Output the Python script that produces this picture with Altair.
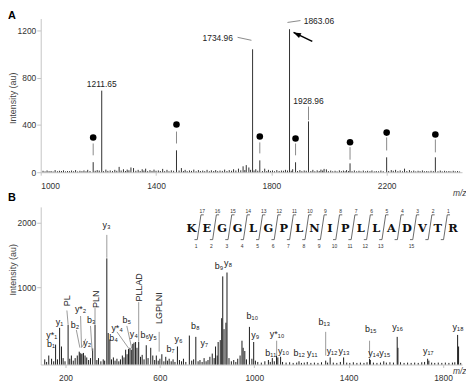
import altair as alt
import pandas as pd

FONT = "Liberation Sans"
SEQFONT = "DejaVu Serif"

# ---------------- Panel A : MS spectrum ----------------
a_main_mz = [1182.0, 1211.65, 1471.0, 1734.96, 1760.0, 1863.06, 1884.0, 1928.96, 2073.0, 2200.0, 2369.0]
a_main_int = [85, 690, 185, 1040, 100, 1210, 84, 430, 75, 126, 126]

a_minor_mz = [1008, 1022, 1036, 1050, 1065, 1079, 1093, 1107, 1121, 1136, 1150, 1163, 1196, 1226,
              1241, 1257, 1272, 1287, 1300, 1313, 1322, 1338, 1352, 1364, 1379, 1393, 1408, 1423,
              1438, 1453, 1488, 1501, 1516, 1531, 1547, 1562, 1577, 1592, 1607, 1622, 1638, 1654,
              1669, 1686, 1702, 1713, 1722, 1746, 1777, 1790, 1804, 1819, 1835, 1849, 1874, 1899,
              1914, 1944, 1959, 1972, 1983, 1991, 2006, 2021, 2036, 2050, 2061, 2088, 2104, 2119,
              2134, 2149, 2164, 2180, 2216, 2231, 2247, 2262, 2279, 2294, 2309, 2324, 2339, 2354,
              2386, 2401, 2416, 2431, 2446]
a_minor_int = [12, 15, 10, 18, 12, 16, 10, 14, 18, 12, 15, 20, 18, 22,
               15, 20, 45, 25, 22, 40, 35, 20, 25, 30, 18, 22, 15, 28,
               20, 16, 35, 20, 15, 22, 18, 14, 20, 16, 18, 14, 22, 18,
               25, 30, 50, 60, 40, 25, 30, 20, 15, 18, 14, 20, 25, 18,
               15, 20, 16, 22, 28, 24, 14, 12, 16, 14, 18, 15, 12, 14,
               12, 15, 10, 14, 18, 20, 15, 30, 18, 14, 12, 15, 10, 12,
               14, 12, 10, 12, 10]
a_noise_mz = [1015, 1029, 1043, 1058, 1072, 1086, 1100, 1114, 1128, 1143, 1157, 1171, 1189, 1203,
              1218, 1233, 1249, 1264, 1279, 1294, 1306, 1330, 1345, 1358, 1371, 1386, 1400, 1415,
              1430, 1445, 1461, 1480, 1495, 1508, 1523, 1539, 1554, 1569, 1585, 1600, 1614, 1630,
              1646, 1662, 1677, 1694, 1708, 1728, 1740, 1753, 1769, 1784, 1797, 1811, 1827, 1842,
              1856, 1869, 1891, 1906, 1921, 1937, 1951, 1966, 1978, 1998, 2013, 2028, 2043, 2056,
              2068, 2080, 2096, 2111, 2127, 2142, 2157, 2172, 2188, 2207, 2223, 2239, 2255, 2270,
              2286, 2301, 2316, 2331, 2346, 2362, 2378, 2393, 2408, 2423, 2438, 2453]
a_noise_int = [7, 9, 6, 8, 10, 7, 9, 8, 6, 9, 8, 10, 12, 14,
               9, 11, 10, 12, 14, 10, 16, 12, 10, 14, 9, 11, 12, 10,
               9, 8, 12, 14, 10, 9, 11, 8, 10, 9, 8, 10, 9, 11,
               10, 12, 14, 16, 18, 20, 14, 12, 10, 9, 11, 8, 10, 12,
               14, 12, 10, 9, 12, 10, 8, 10, 14, 9, 8, 7, 9, 8,
               10, 9, 8, 7, 8, 9, 7, 8, 9, 10, 12, 9, 8, 10,
               8, 7, 9, 8, 7, 9, 8, 7, 8, 7, 8, 6]

a_dot_mz = [1182.0, 1471.0, 1760.0, 1884.0, 2073.0, 2200.0, 2369.0]
a_dot_int = [294, 403, 302, 285, 254, 335, 319]
a_stick_top = [243, 344, 252, 243, 212, 294, 277]
a_stick_bot = [143, 243, 159, 143, 106, 184, 168]

a_label_text = ["1211.65", "1734.96", "1863.06", "1928.96"]
a_label_mz = [1211.65, 1614, 1965, 1928.96]
a_label_int = [747, 1133, 1275, 604]

a_lead_mz = [1683, 1856, 1928.96]
a_lead_int = [1141, 1267, 555]
a_lead_mz2 = [1731, 1901, 1928.96]
a_lead_int2 = [1116, 1283, 440]

a_arrow_mz = [1942]
a_arrow_int = [1107]
a_arrow_mz2 = [1877]
a_arrow_int2 = [1183]

# ---------------- Panel B : MS/MS spectrum of m/z 1863 ----------------
b_mz = [112, 120, 129.1, 141, 150, 158.1, 166, 175.1, 183, 190, 198, 211.1, 218, 225, 233, 241, 250,
        258.2, 262, 266, 270, 276.2, 283, 290, 298, 306, 315.2, 325.2, 333, 340, 350, 360, 366,
        375.2, 381, 388, 395, 403, 410, 418, 426, 433, 441, 448, 455, 461, 467, 473.2, 479, 485.3,
        490.3, 497, 503, 510.3, 518, 525, 533, 542.3, 550, 561.3, 570, 578, 585, 593, 600, 608.4,
        617, 625, 632, 639.4, 648, 656, 664, 674.4, 683, 692, 700, 710, 725, 735, 743, 752.4, 762,
        770, 779, 787.5, 796, 804, 812, 822, 830, 836, 843, 847, 856, 862, 866.5, 872, 880, 884.5,
        893, 903, 913, 922, 930, 940, 948, 953, 960, 967, 979.6, 990, 997.6, 1005, 1015, 1030,
        1045, 1060, 1068, 1076.6, 1085, 1094.6, 1100, 1111.7, 1120, 1135, 1150, 1165, 1180,
        1189.7, 1200, 1212, 1224.7, 1240, 1255, 1270, 1285, 1302.8, 1311, 1321.8, 1335, 1350,
        1365, 1378.8, 1392, 1405, 1420, 1435, 1450, 1465, 1478, 1488.8, 1491.9, 1505, 1520, 1535,
        1548.9, 1560, 1575, 1590, 1605.9, 1609, 1620, 1635, 1650, 1665, 1680, 1695, 1710, 1722,
        1734.97, 1740, 1752, 1765, 1780, 1795, 1810, 1825, 1840, 1850, 1862, 1866, 1875]
b_int = [-120, -160, -60, -110, -150, 110, -120, 370, 80, -100, -150, 420, -110, -60, -140, -100, -60,
         0, -20, -40, -30, -20, -60, -90, -130, -100, 50, 420, -130, -100, -150, -120, -140,
         1450, 290, 190, -120, -90, -140, -110, -150, -120, -60, -90, 30, -40, 40, 60, 30, 120,
         140, 150, 60, 150, -80, -50, -120, 100, -100, 60, -60, -130, -60, -140, -110, -40,
         -150, -80, -140, -110, -150, -120, -160, 80, -130, -150, -110, -160, 250, -140, -120, 230, -150,
         -130, -160, -100, -150, -130, -80, -30, -100, 80, -60, 150, 180, 520, 1170, 350, 450, 1230,
         -100, -150, -130, -160, -110, -60, 170, 60, 10, -120, 385, -110, 150, -140, -160, -170,
         -150, -130, -160, -100, -150, -60, -90, -80, -160, -170, -165, -175, -170,
         -150, -175, -170, -160, -175, -170, -175, -165, -140, -170, -90, -170, -175,
         -160, -90, -170, -175, -165, -175, -170, -175, -165, -110, -130, -170, -175, -170,
         -150, -170, -165, -170, 230, 60, -165, -175, -170, -175, -170, -175, -165, -160,
         -110, -140, -170, -175, -170, -175, -170, -175, -170, -165, 260, 80, -175]

b_label_text = ["y₃", "y₁", "y*₁", "b₁", "b₂", "y*₂", "y₂", "b₃", "b₄", "y*₄", "b₅", "y₄", "b₆",
                "y₅", "y₆", "b₇", "b₈", "y₇", "b₉", "y₈", "b₁₀", "y₉", "y*₁₀", "b₁₁", "y₁₀",
                "b₁₂", "y₁₁", "b₁₃", "y₁₂", "y₁₃", "b₁₅", "y₁₄", "y₁₅", "y₁₆", "y₁₇", "y₁₈"]
b_label_mz = [374, 175, 142, 139, 240, 264, 292, 309, 404, 419, 460, 490, 536,
              570, 679, 645, 750, 788, 851, 889, 992, 1004, 1097, 1070, 1124,
              1191, 1246, 1297, 1330, 1381, 1494, 1507, 1553, 1608, 1738, 1864]
b_label_int = [1969, 462, 262, 123, 415, 662, 138, 485, 215, 370, 490, 277, 262,
               246, 200, 46, 400, 138, 1338, 1385, 554, 262, 277, -15, 15,
               -15, -15, 462, 15, 15, 354, -15, -15, 385, 15, 385]

b_rot_text = ["PL", "PLN", "PLLAD", "LGPLNI"]
b_rot_mz = [206, 328, 513, 597]
b_rot_int = [792, 815, 1000, 677]

b_lead_mz = [375.2, 206, 246, 264, 286, 306, 325.2, 418, 460, 510.3, 597, 1095, 1302.8, 1488.8]
b_lead_int = [1460, 640, 338, 554, 200, 400, 677, 308, 400, 770, 308, 170, 308, 170]
b_lead_mz2 = [375.2, 211, 261, 268, 272, 313, 325.2, 469, 481, 510.3, 597, 1095, 1302.8, 1488.8]
b_lead_int2 = [1815, 430, 62, 62, 77, 15, 430, 46, 46, 154, 0, -60, -60, -60]

# peptide sequence inset
seq = list("KEGGLGPLNIPLLADVTR")
y_index = list(range(17, 0, -1))           # numbers above the bonds
b_index = [1, 2, 3, 4, 5, 6, 7, 8, 9, 10, 11, 12, 13, 15]   # numbers below the bonds

# ---------------- helpers ----------------
WA, HA = 425, 155
WB, HB = 425, 159
PEAK = "#1a1a1a"

ax_x_A = alt.Axis(values=[1000, 1400, 1800, 2200], format="d", title="m/z", titleFontStyle="italic",
                  titleFontSize=8.5, titleAlign="right", titleAnchor="end", titleX=429, titleY=21,
                  titleBaseline="middle", tickSize=3, labelPadding=6)
ax_y_A = alt.Axis(values=[0, 400, 800, 1200], format="d", title="Intensity (au)", tickSize=4,
                  labelPadding=1, titlePadding=0, titleY=80)
sx_A = alt.Scale(domain=[1000, 2461.5], nice=False, zero=False)
sy_A = alt.Scale(domain=[0, 1300], nice=False)

def XA(f="mz"):
    return alt.X(f + ":Q", scale=sx_A, axis=ax_x_A)

def YA(f="I"):
    return alt.Y(f + ":Q", scale=sy_A, axis=ax_y_A)

main_a = pd.DataFrame({"mz": a_main_mz + a_minor_mz + a_noise_mz,
                       "I": a_main_int + a_minor_int + a_noise_int})
peaks_a = alt.Chart(main_a).mark_rule(color=PEAK, strokeWidth=0.9).encode(
    x=XA(), y=YA(), y2=alt.datum(0))

dots_df = pd.DataFrame({"mz": a_dot_mz, "I": a_dot_int, "st": a_stick_top, "sb": a_stick_bot})
sticks_a = alt.Chart(dots_df).mark_rule(color="#8a8a8a", strokeWidth=1).encode(
    x=XA(), y=YA("st"), y2="sb:Q")
dots_a = alt.Chart(dots_df).mark_circle(color="black", opacity=1, size=44).encode(x=XA(), y=YA())

lab_a = alt.Chart(pd.DataFrame({"mz": a_label_mz, "I": a_label_int, "t": a_label_text})).mark_text(
    font=FONT, fontSize=8.5, color="#222", baseline="middle").encode(x=XA(), y=YA(), text="t:N")

lead_a = alt.Chart(pd.DataFrame({"mz": a_lead_mz, "I": a_lead_int, "mz2": a_lead_mz2, "I2": a_lead_int2})
                   ).mark_rule(color="#8a8a8a", strokeWidth=1).encode(x=XA(), x2="mz2:Q", y=YA(), y2="I2:Q")

arrow_df = pd.DataFrame({"mz": a_arrow_mz, "I": a_arrow_int, "mz2": a_arrow_mz2, "I2": a_arrow_int2})
arrow_shaft = alt.Chart(arrow_df).mark_rule(color="black", strokeWidth=1.6).encode(
    x=XA(), x2="mz2:Q", y=YA(), y2="I2:Q")
arrow_head = alt.Chart(arrow_df).mark_point(shape="M0,0L0.55,1.5L-0.55,1.5Z", filled=True, color="black",
                                             opacity=1, size=100, angle=296).encode(x=XA("mz2"), y=YA("I2"))

letters_a = alt.Chart(pd.DataFrame({"t": ["A", "B"], "yy": [-9, 175]})).mark_text(
    font=FONT, fontSize=11, fontWeight="bold", color="black", align="left", baseline="top").encode(
    x=alt.value(-33), y=alt.Y("yy:Q", scale=None), text="t:N")

panel_a = alt.layer(peaks_a, sticks_a, dots_a, lead_a, lab_a, arrow_shaft, arrow_head, letters_a
                    ).properties(width=WA, height=HA)

# ---------------- Panel B ----------------
ax_x_B = alt.Axis(values=[200, 600, 1000, 1400, 1800], format="d", title="m/z", titleFontStyle="italic",
                  titleFontSize=8.5, titleAlign="right", titleAnchor="end", titleX=429, titleY=6,
                  titleBaseline="middle", tickSize=3, labelPadding=6)
ax_y_B = alt.Axis(values=[1000, 2000], format="d", title="Intensity (au)", tickSize=4, labelPadding=1,
                  titlePadding=0, titleY=63)
sx_B = alt.Scale(domain=[95, 1880.7], nice=False, zero=False)
sy_B = alt.Scale(domain=[-200, 2250], nice=False, zero=False)

def XB(f="mz"):
    return alt.X(f + ":Q", scale=sx_B, axis=ax_x_B)

def YB(f="I"):
    return alt.Y(f + ":Q", scale=sy_B, axis=ax_y_B)

peaks_b = alt.Chart(pd.DataFrame({"mz": b_mz, "I": b_int})).mark_rule(color=PEAK, strokeWidth=1).encode(
    x=XB(), y=YB(), y2=alt.datum(-200))
lead_b = alt.Chart(pd.DataFrame({"mz": b_lead_mz, "I": b_lead_int, "mz2": b_lead_mz2, "I2": b_lead_int2})
                   ).mark_rule(color="#9a9a9a", strokeWidth=1).encode(x=XB(), x2="mz2:Q", y=YB(), y2="I2:Q")
lab_b = alt.Chart(pd.DataFrame({"mz": b_label_mz, "I": b_label_int, "t": b_label_text})).mark_text(
    font=FONT, fontSize=9, color="#222", baseline="middle").encode(x=XB(), y=YB(), text="t:N")
rot_b = alt.Chart(pd.DataFrame({"mz": b_rot_mz, "I": b_rot_int, "t": b_rot_text})).mark_text(
    font=FONT, fontSize=9, color="#222", baseline="middle", angle=270).encode(x=XB(), y=YB(), text="t:N")

spec_b = alt.layer(peaks_b, lead_b, lab_b, rot_b)

# sequence inset (own residue-position scale)
sx_seq = alt.Scale(domain=[-9.79, 17.58], nice=False, zero=False)
seq_df = pd.DataFrame({"pos": list(range(len(seq))), "aa": seq})
bond_df = pd.DataFrame({"k": list(range(1, len(seq))), "yi": y_index})
bidx_df = pd.DataFrame({"k": b_index})

def XS(f):
    return alt.X(f + ":Q", scale=sx_seq, axis=None)

seq_txt = alt.Chart(seq_df).mark_text(font=SEQFONT, fontSize=11.5, fontWeight="bold", color="#111",
                                      baseline="middle").encode(x=XS("pos"), y=alt.value(22), text="aa:N")
bond_base = alt.Chart(bond_df).transform_calculate(
    a="datum.k - 0.5 - 0.30", b="datum.k - 0.5 - 0.12", c="datum.k - 0.5 + 0.12", d="datum.k - 0.5 + 0.30",
    tx="datum.k - 0.5 + 0.2")
hook_lo = bond_base.mark_rule(color="#444", strokeWidth=0.8).encode(
    x=XS("a"), x2="b:Q", y=alt.value(33), y2=alt.value(33))
slant = bond_base.mark_rule(color="#444", strokeWidth=0.8).encode(
    x=XS("b"), x2="c:Q", y=alt.value(33), y2=alt.value(8))
hook_hi = bond_base.mark_rule(color="#444", strokeWidth=0.8).encode(
    x=XS("c"), x2="d:Q", y=alt.value(8), y2=alt.value(8))
ynum = bond_base.mark_text(font=FONT, fontSize=5, color="#333", baseline="middle").encode(
    x=XS("tx"), y=alt.value(4), text="yi:N")
bnum = alt.Chart(bidx_df).transform_calculate(bx="datum.k - 0.5 - 0.2").mark_text(
    font=FONT, fontSize=5, color="#333", baseline="middle").encode(x=XS("bx"), y=alt.value(39), text="k:N")

inset_b = alt.layer(hook_lo, slant, hook_hi, seq_txt, ynum, bnum)

panel_b = alt.layer(spec_b, inset_b).resolve_scale(x="independent").properties(width=WB, height=HB)

chart = alt.vconcat(panel_a, panel_b, spacing=4).properties(padding=0, background="white").configure_view(
    stroke=None).configure_axis(
    grid=False, labelFont=FONT, titleFont=FONT, labelFontSize=8.5, titleFontSize=9,
    labelColor="#333", titleColor="#444", domainColor="#c4c4c4", tickColor="#c4c4c4",
    titleFontWeight="normal")

chart.save("out.html", embed_options={"renderer": "svg", "actions": False})
